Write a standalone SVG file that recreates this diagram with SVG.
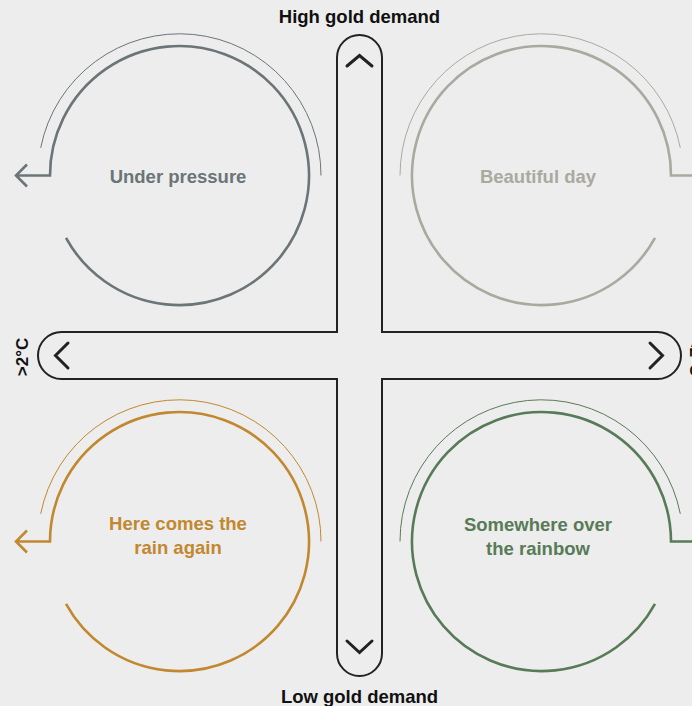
<svg xmlns="http://www.w3.org/2000/svg" width="692" height="706" viewBox="0 0 692 706">
  <style>
    .bg { fill: #ededed; }
    .axis { fill: #ededed; stroke: #222222; stroke-width: 2; }
    .chev { fill: none; stroke: #222222; stroke-width: 3; stroke-linecap: round; stroke-linejoin: miter; }
    .lbl { font-family: "Liberation Sans", Arial, sans-serif; font-weight: bold; fill: #111111; }
    .name { font-family: "Liberation Sans", Arial, sans-serif; font-weight: bold; font-size: 18.5px; text-anchor: middle; }
    .loop { fill: none; stroke-width: 2.6; stroke-linejoin: miter; }
    .halo { fill: none; stroke-width: 1; }
    .head { fill: none; stroke-width: 2.6; stroke-linecap: butt; stroke-linejoin: miter; }
    .grey { stroke: #6b7578; } .grey-t { fill: #6b7578; }
    .stone { stroke: #a9aa9f; } .stone-t { fill: #a9aa9f; }
    .gold { stroke: #c1882f; } .gold-t { fill: #c1882f; }
    .green { stroke: #587b57; } .green-t { fill: #587b57; }
  </style>

  <rect class="bg" x="0" y="0" width="692" height="706"/>

  <!-- central cross axes -->
  <g id="axes">
    <path class="axis" d="M 337 332 V 57.5 A 22.5 22.5 0 0 1 382 57.5 V 332 H 657.5 A 23.5 23.5 0 0 1 657.5 379 H 382 V 653.5 A 22.5 22.5 0 0 1 337 653.5 V 379 H 61.5 A 23.5 23.5 0 0 1 61.5 332 Z"/>
    <path class="chev" d="M 347 66 L 359.5 55.5 L 372 66"/>
    <path class="chev" d="M 347 641 L 359.5 652.5 L 372 641"/>
    <path class="chev" d="M 68 343 L 55.5 355.5 L 68 368"/>
    <path class="chev" d="M 650 343 L 662.5 355.5 L 650 368"/>
  </g>

  <!-- axis labels -->
  <g id="axis-labels">
    <text class="lbl" x="359.5" y="22.7" font-size="18.5" text-anchor="middle">High gold demand</text>
    <text class="lbl" x="359.5" y="702.7" font-size="18.5" text-anchor="middle">Low gold demand</text>
    <text class="lbl" font-size="17" text-anchor="middle" transform="translate(28 357) rotate(-90)">&gt;2°C</text>
    <text class="lbl" font-size="17" text-anchor="middle" transform="translate(690 357) rotate(90)">&lt;2°C</text>
  </g>

  <!-- top-left scenario -->
  <g id="under-pressure">
    <path class="halo grey" d="M 40.7 147.8 A 141.5 141.5 0 0 1 321 175.5"/>
    <path class="loop grey" d="M 66 237.9 A 129.5 129.5 0 1 0 50 175.5 H 16"/>
    <path class="head grey" d="M 27 164.5 L 16 175.5 L 27 186.5"/>
    <text class="name grey-t" x="178" y="182.7">Under pressure</text>
  </g>

  <!-- top-right scenario -->
  <g id="beautiful-day">
    <path class="halo stone" d="M 400 175.5 A 141.5 141.5 0 0 1 680.3 147.8"/>
    <path class="loop stone" d="M 655 237.9 A 129.5 129.5 0 1 1 671 175.5 H 694"/>
    <text class="name stone-t" x="538" y="182.7">Beautiful day</text>
  </g>

  <!-- bottom-left scenario -->
  <g id="rain-again">
    <path class="halo gold" d="M 40.7 513.8 A 141.5 141.5 0 0 1 321 541.5"/>
    <path class="loop gold" d="M 66 603.9 A 129.5 129.5 0 1 0 50 541.5 H 16"/>
    <path class="head gold" d="M 27 530.5 L 16 541.5 L 27 552.5"/>
    <text class="name gold-t" x="178" y="530">Here comes the</text>
    <text class="name gold-t" x="178" y="554">rain again</text>
  </g>

  <!-- bottom-right scenario -->
  <g id="over-the-rainbow">
    <path class="halo green" d="M 400 541.5 A 141.5 141.5 0 0 1 680.3 513.8"/>
    <path class="loop green" d="M 655 603.9 A 129.5 129.5 0 1 1 671 541.5 H 694"/>
    <text class="name green-t" x="538" y="531">Somewhere over</text>
    <text class="name green-t" x="538" y="555">the rainbow</text>
  </g>
</svg>
